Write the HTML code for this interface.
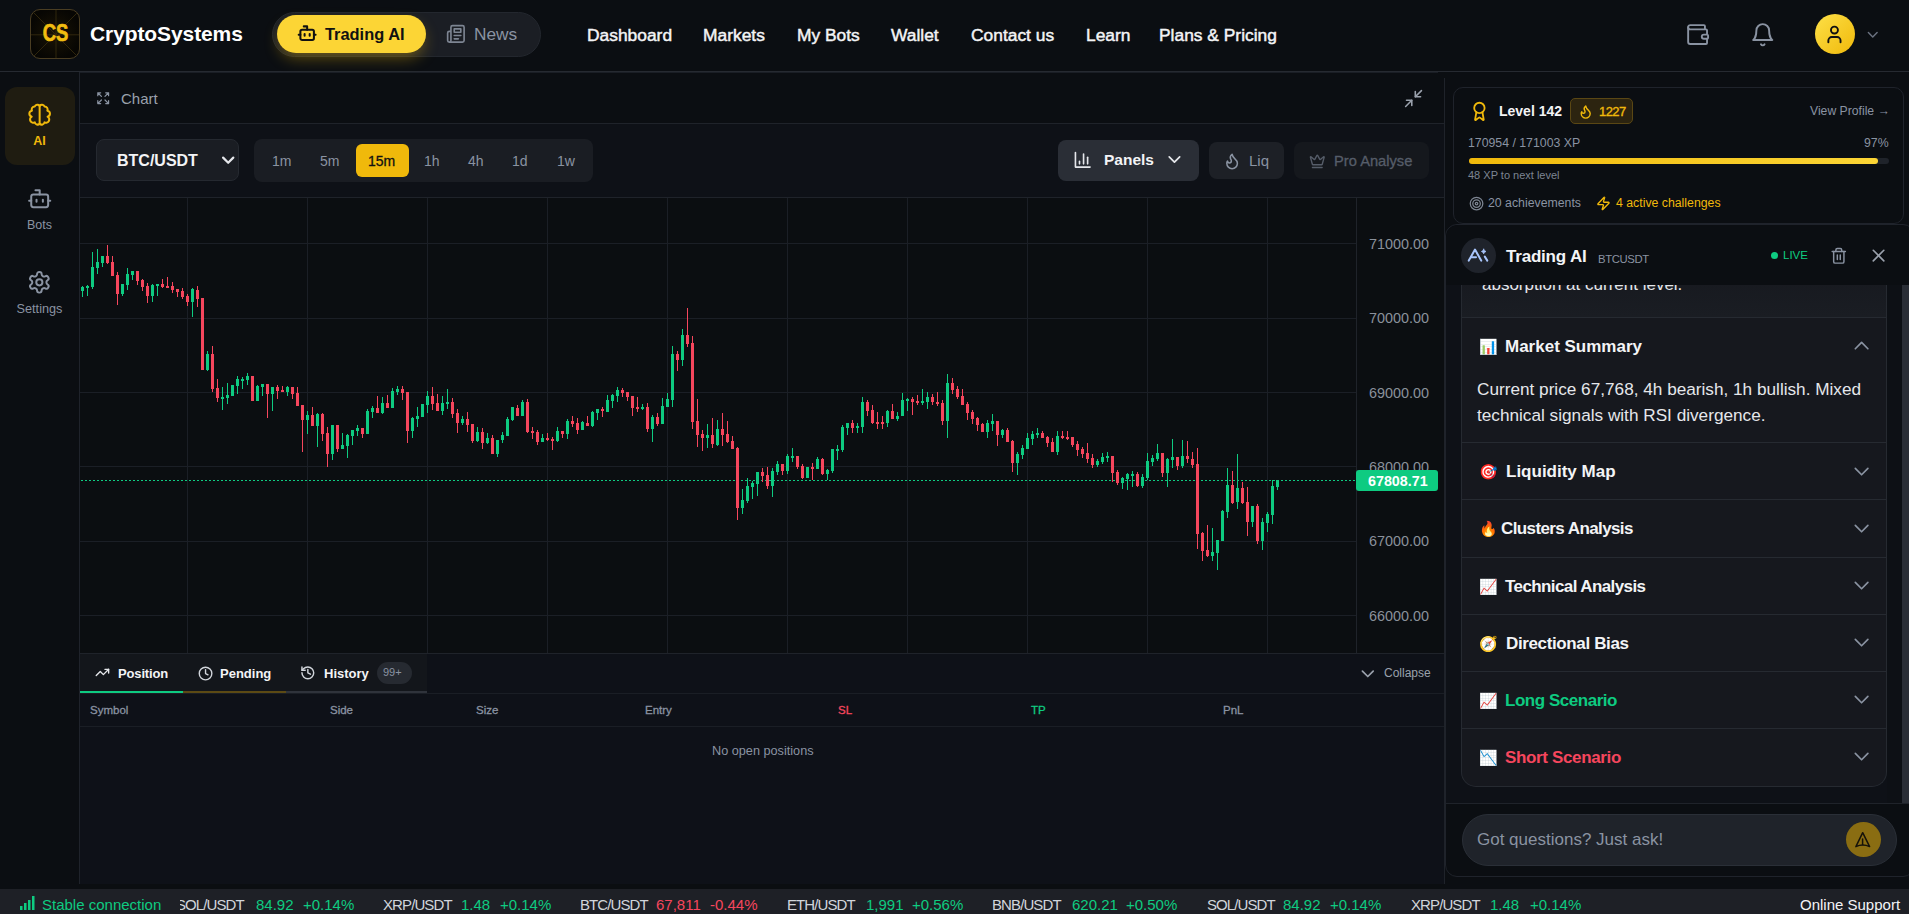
<!DOCTYPE html>
<html><head><meta charset="utf-8">
<style>
*{box-sizing:border-box;margin:0;padding:0}
html,body{width:1909px;height:914px;overflow:hidden;background:#0b0e11;font-family:"Liberation Sans",sans-serif;color:#e6e8ea}
.a{position:absolute}
.t{position:absolute;white-space:nowrap;line-height:1}
svg{position:absolute;overflow:visible}
</style></head><body>

<!-- HEADER -->
<div class="a" style="left:0;top:0;width:1909px;height:71px;background:#0b0e12"></div>
<div class="a" style="left:0;top:71px;width:1909px;height:1px;background:#262a31"></div>

<!-- logo -->
<div class="a" style="left:30px;top:9px;width:50px;height:50px;border-radius:10px;border:1px solid #4a3d22;background:radial-gradient(circle at 50% 50%,#1a1405 0%,#070603 75%);overflow:hidden">
  <svg width="50" height="50" style="left:-1px;top:-1px" stroke="#342a0f" stroke-width="0.9">
    <line x1="26" y1="0" x2="26" y2="50"/><line x1="0" y1="25.8" x2="50" y2="25.8"/>
    <line x1="3" y1="3" x2="48" y2="48"/><line x1="48" y1="3" x2="3" y2="48"/>
  </svg>
</div>
<div class="t" style="left:30px;top:22.4px;width:51px;text-align:center;font-size:23px;font-weight:700;transform:scaleX(0.8);color:#f2bd10;-webkit-text-stroke:0.7px #f2bd10">CS</div>
<div class="t" style="left:90px;top:23px;font-size:21px;font-weight:700;color:#fff;letter-spacing:-0.1px">CryptoSystems</div>

<!-- tabs -->
<div class="a" style="left:272px;top:12px;width:269px;height:45px;border-radius:23px;background:#1b1e24;border:1px solid #23272e"></div>
<div class="a" style="left:277px;top:15px;width:149px;height:38px;border-radius:19px;background:#fcd535;box-shadow:0 7px 16px -3px rgba(240,185,11,0.42)"></div>
<svg class="a" style="left:296.9px;top:23.4px" width="20.3" height="20.3" viewBox="0 0 24 24" fill="none" stroke="#111" stroke-width="2.4" stroke-linecap="round" stroke-linejoin="round"><path d="M12 8V4H8"/><rect width="16" height="12" x="4" y="8" rx="2"/><path d="M2 14h2"/><path d="M20 14h2"/><path d="M15 13v2"/><path d="M9 13v2"/></svg>
<div class="t" style="left:325px;top:26px;font-size:16.4px;font-weight:700;color:#111">Trading AI</div>
<svg class="a" style="left:445.9px;top:24px" width="19.75" height="19.75" viewBox="0 0 24 24" fill="none" stroke="#7d8592" stroke-width="2" stroke-linecap="round" stroke-linejoin="round"><path d="M4 22h16a2 2 0 0 0 2-2V4a2 2 0 0 0-2-2H8a2 2 0 0 0-2 2v16a2 2 0 0 1-2 2Zm0 0a2 2 0 0 1-2-2v-9c0-1.1.9-2 2-2h2"/><path d="M18 14h-8"/><path d="M15 18h-5"/><path d="M10 6h8v4h-8V6Z"/></svg>
<div class="t" style="left:474px;top:26px;font-size:17.3px;color:#8a93a2">News</div>

<!-- nav -->
<div class="t" style="left:587px;top:26.6px;font-size:17.4px;color:#f3f4f6;-webkit-text-stroke:0.45px #f3f4f6">Dashboard</div>
<div class="t" style="left:703px;top:26.6px;font-size:17.4px;color:#f3f4f6;-webkit-text-stroke:0.45px #f3f4f6">Markets</div>
<div class="t" style="left:797px;top:26.6px;font-size:17.4px;color:#f3f4f6;-webkit-text-stroke:0.45px #f3f4f6">My Bots</div>
<div class="t" style="left:891px;top:26.6px;font-size:17.4px;color:#f3f4f6;-webkit-text-stroke:0.45px #f3f4f6">Wallet</div>
<div class="t" style="left:971px;top:26.6px;font-size:17.4px;color:#f3f4f6;-webkit-text-stroke:0.45px #f3f4f6">Contact us</div>
<div class="t" style="left:1086px;top:26.6px;font-size:17.4px;color:#f3f4f6;-webkit-text-stroke:0.45px #f3f4f6">Learn</div>
<div class="t" style="left:1159px;top:26.6px;font-size:17.4px;color:#f3f4f6;-webkit-text-stroke:0.45px #f3f4f6">Plans &amp; Pricing</div>

<!-- right header icons -->
<svg class="a" style="left:1684.7px;top:21.8px" width="25.2" height="25.2" viewBox="0 0 24 24" fill="none" stroke="#8a93a2" stroke-width="1.8" stroke-linecap="round" stroke-linejoin="round"><path d="M19 7V4a1 1 0 0 0-1-1H5a2 2 0 0 0 0 4h15a1 1 0 0 1 1 1v4h-3a2 2 0 0 0 0 4h3a1 1 0 0 0 1-1v-2a1 1 0 0 0-1-1"/><path d="M3 5v14a2 2 0 0 0 2 2h15a1 1 0 0 0 1-1v-4"/></svg>
<svg class="a" style="left:1749.6px;top:21.5px" width="25.5" height="25.5" viewBox="0 0 24 24" fill="none" stroke="#8a93a2" stroke-width="1.8" stroke-linecap="round" stroke-linejoin="round"><path d="M6 8a6 6 0 0 1 12 0c0 7 3 9 3 9H3s3-2 3-9"/><path d="M10.3 21a1.94 1.94 0 0 0 3.4 0"/></svg>
<div class="a" style="left:1815px;top:14px;width:40px;height:40px;border-radius:50%;background:linear-gradient(135deg,#fde047,#f0b90b)"></div>
<svg class="a" style="left:1824.2px;top:23.5px" width="20.9" height="20.9" viewBox="0 0 24 24" fill="none" stroke="#111" stroke-width="2.2" stroke-linecap="round" stroke-linejoin="round"><path d="M19 21v-2a4 4 0 0 0-4-4H9a4 4 0 0 0-4 4v2"/><circle cx="12" cy="7" r="4"/></svg>
<svg class="a" style="left:1863.8px;top:25.7px" width="17.5" height="17.5" viewBox="0 0 24 24" fill="none" stroke="#6b7280" stroke-width="2" stroke-linecap="round" stroke-linejoin="round"><path d="m6 9 6 6 6-6"/></svg>

<!-- SIDEBAR -->
<div class="a" style="left:0;top:72px;width:79px;height:817px;background:#0b0e12"></div>
<div class="a" style="left:79px;top:72px;width:1px;height:812px;background:#1f232b"></div>
<div class="a" style="left:5px;top:87px;width:70px;height:78px;border-radius:12px;background:#1f1c11"></div>
<svg class="a" style="left:26.7px;top:101.7px" width="25.3" height="25.3" viewBox="0 0 24 24" fill="none" stroke="#f0b90b" stroke-width="1.9" stroke-linecap="round" stroke-linejoin="round"><path d="M12 3.6V20.6"/><path d="M12 3.6A2.7 2.7 0 0 0 7.4 4.2A2.8 2.8 0 0 0 4.7 8.2A2.9 2.9 0 0 0 4.5 13.9A2.9 2.9 0 0 0 7.4 19.3A2.7 2.7 0 0 0 12 20.6"/><path d="M12 3.6A2.7 2.7 0 0 1 16.6 4.2A2.8 2.8 0 0 1 19.3 8.2A2.9 2.9 0 0 1 19.5 13.9A2.9 2.9 0 0 1 16.6 19.3A2.7 2.7 0 0 1 12 20.6"/></svg>
<div class="t" style="left:0;width:79px;text-align:center;top:135px;font-size:12.5px;font-weight:700;color:#f0b90b">AI</div>
<svg class="a" style="left:26.6px;top:185.6px" width="25.4" height="25.4" viewBox="0 0 24 24" fill="none" stroke="#8a93a2" stroke-width="1.9" stroke-linecap="round" stroke-linejoin="round"><path d="M12 8V4H8"/><rect width="16" height="12" x="4" y="8" rx="2"/><path d="M2 14h2"/><path d="M20 14h2"/><path d="M15 13v2"/><path d="M9 13v2"/></svg>
<div class="t" style="left:0;width:79px;text-align:center;top:219px;font-size:12.5px;color:#8a93a2">Bots</div>
<svg class="a" style="left:27.3px;top:269.5px" width="24.7" height="24.7" viewBox="0 0 24 24" fill="none" stroke="#8a93a2" stroke-width="1.9" stroke-linecap="round" stroke-linejoin="round"><path d="M12.22 2h-.44a2 2 0 0 0-2 2v.18a2 2 0 0 1-1 1.73l-.43.25a2 2 0 0 1-2 0l-.15-.08a2 2 0 0 0-2.73.73l-.22.38a2 2 0 0 0 .73 2.73l.15.1a2 2 0 0 1 1 1.72v.51a2 2 0 0 1-1 1.74l-.15.09a2 2 0 0 0-.73 2.73l.22.38a2 2 0 0 0 2.73.73l.15-.08a2 2 0 0 1 2 0l.43.25a2 2 0 0 1 1 1.73V20a2 2 0 0 0 2 2h.44a2 2 0 0 0 2-2v-.18a2 2 0 0 1 1-1.73l.43-.25a2 2 0 0 1 2 0l.15.08a2 2 0 0 0 2.73-.73l.22-.39a2 2 0 0 0-.73-2.73l-.15-.08a2 2 0 0 1-1-1.74v-.5a2 2 0 0 1 1-1.74l.15-.09a2 2 0 0 0 .73-2.73l-.22-.38a2 2 0 0 0-2.73-.73l-.15.08a2 2 0 0 1-2 0l-.43-.25a2 2 0 0 1-1-1.73V4a2 2 0 0 0-2-2z"/><circle cx="12" cy="12" r="3"/></svg>
<div class="t" style="left:0;width:79px;text-align:center;top:303px;font-size:12.7px;color:#8a93a2">Settings</div>

<!-- CHART PANEL -->
<div class="a" style="left:80px;top:72px;width:1364px;height:51px;background:#0b0e12"></div>
<div class="a" style="left:80px;top:123px;width:1364px;height:1px;background:#1f232a"></div>
<div class="a" style="left:80px;top:72px;width:1358px;height:1px;background:#1a1e25"></div>
<div class="a" style="left:1444px;top:78px;width:1px;height:806px;background:#1f232a"></div>
<svg class="a" style="left:96.2px;top:91.2px" width="14.4" height="14.4" viewBox="0 0 24 24" fill="none" stroke="#8a93a2" stroke-width="2" stroke-linecap="round" stroke-linejoin="round"><path d="m21 21-6-6m6 6v-4.8m0 4.8h-4.8"/><path d="M3 16.2V21m0 0h4.8M3 21l6-6"/><path d="M21 7.8V3m0 0h-4.8M21 3l-6 6"/><path d="M3 7.8V3m0 0h4.8M3 3l6 6"/></svg>
<div class="t" style="left:121px;top:91px;font-size:15px;color:#9aa1ac">Chart</div>
<svg class="a" style="left:1403.3px;top:87.5px" width="21.1" height="21.1" viewBox="0 0 24 24" fill="none" stroke="#9aa1ac" stroke-width="1.8" stroke-linecap="round" stroke-linejoin="round"><path d="M4 14h6v6"/><path d="M20 10h-6V4"/><path d="m14 10 7-7"/><path d="m3 21 7-7"/></svg>

<!-- toolbar -->
<div class="a" style="left:80px;top:124px;width:1364px;height:73px;background:#0e1117"></div>
<div class="a" style="left:96px;top:139px;width:143px;height:42px;border-radius:8px;background:#1a1d23;border:1px solid #252930"></div>
<div class="t" style="left:117px;top:153px;font-size:16px;font-weight:700;color:#f3f4f6">BTC/USDT</div>
<svg class="a" style="left:218.2px;top:150.4px" width="20.4" height="20.4" viewBox="0 0 24 24" fill="none" stroke="#e5e7eb" stroke-width="2.6" stroke-linecap="round" stroke-linejoin="round"><path d="m6 9 6 6 6-6"/></svg>

<div class="a" style="left:254px;top:139px;width:339px;height:43px;border-radius:8px;background:#1a1d23"></div>
<div class="a" style="left:356px;top:144px;width:53px;height:33px;border-radius:6px;background:#f0b90b"></div>
<div class="t" style="left:272px;top:154px;font-size:14px;color:#8a93a2">1m</div>
<div class="t" style="left:320px;top:154px;font-size:14px;color:#8a93a2">5m</div>
<div class="t" style="left:368px;top:154px;font-size:14px;color:#111;-webkit-text-stroke:0.3px #111">15m</div>
<div class="t" style="left:424px;top:154px;font-size:14px;color:#8a93a2">1h</div>
<div class="t" style="left:468px;top:154px;font-size:14px;color:#8a93a2">4h</div>
<div class="t" style="left:512px;top:154px;font-size:14px;color:#8a93a2">1d</div>
<div class="t" style="left:557px;top:154px;font-size:14px;color:#8a93a2">1w</div>

<div class="a" style="left:1058px;top:140px;width:141px;height:41px;border-radius:8px;background:#2a2e36"></div>
<svg class="a" style="left:1072.8px;top:150.4px" width="19.5" height="19.5" viewBox="0 0 24 24" fill="none" stroke="#e5e7eb" stroke-width="2" stroke-linecap="round" stroke-linejoin="round"><path d="M3 3v18h18"/><path d="M18 17V9"/><path d="M13 17V5"/><path d="M8 17v-3"/></svg>
<div class="t" style="left:1104px;top:152px;font-size:15.5px;font-weight:700;color:#f3f4f6">Panels</div>
<svg class="a" style="left:1163.6px;top:149.3px" width="20.9" height="20.9" viewBox="0 0 24 24" fill="none" stroke="#e5e7eb" stroke-width="2" stroke-linecap="round" stroke-linejoin="round"><path d="m6 9 6 6 6-6"/></svg>

<div class="a" style="left:1209px;top:142px;width:75px;height:37px;border-radius:8px;background:#1d2026"></div>
<svg class="a" style="left:1223.4px;top:151.6px" width="18.2" height="18.2" viewBox="0 0 24 24" fill="none" stroke="#8a93a2" stroke-width="2" stroke-linecap="round" stroke-linejoin="round"><path d="M8.5 14.5A2.5 2.5 0 0 0 11 12c0-1.38-.5-2-1-3-1.072-2.143-.224-4.054 2-6 .5 2.5 2 4.9 4 6.5 2 1.6 3 3.5 3 5.5a7 7 0 1 1-14 0c0-1.153.433-2.294 1-3a2.5 2.5 0 0 0 2.5 2.5z"/></svg>
<div class="t" style="left:1249px;top:153px;font-size:15px;color:#8a93a2">Liq</div>

<div class="a" style="left:1294px;top:142px;width:135px;height:37px;border-radius:8px;background:#15181d"></div>
<svg class="a" style="left:1309.3px;top:152.8px" width="16.6" height="16.6" viewBox="0 0 24 24" fill="none" stroke="#565d69" stroke-width="2" stroke-linecap="round" stroke-linejoin="round"><path d="M11.562 3.266a.5.5 0 0 1 .876 0L15.39 8.87a1 1 0 0 0 1.516.294L21.183 5.5a.5.5 0 0 1 .798.519l-2.834 10.246a1 1 0 0 1-.956.734H5.81a1 1 0 0 1-.957-.734L2.02 6.02a.5.5 0 0 1 .798-.519l4.276 3.664a1 1 0 0 0 1.516-.294z"/><path d="M5 21h14"/></svg>
<div class="t" style="left:1334px;top:154px;font-size:14.7px;color:#565d69;-webkit-text-stroke:0.3px #565d69">Pro Analyse</div>

<!-- plot -->
<div class="a" style="left:80px;top:197px;width:1364px;height:1px;background:#1f232a"></div>
<div class="a" style="left:80px;top:198px;width:1364px;height:455px;background:#0b0e11"></div>
<svg class="a" style="left:0;top:0" width="1909" height="914" shape-rendering="crispEdges">
  <g fill="#1b1f26">
    <rect x="187" y="198" width="1" height="455"/><rect x="307" y="198" width="1" height="455"/><rect x="427" y="198" width="1" height="455"/>
    <rect x="547" y="198" width="1" height="455"/><rect x="667" y="198" width="1" height="455"/><rect x="787" y="198" width="1" height="455"/>
    <rect x="907" y="198" width="1" height="455"/><rect x="1027" y="198" width="1" height="455"/><rect x="1147" y="198" width="1" height="455"/>
    <rect x="1267" y="198" width="1" height="455"/>
    <rect x="80" y="243" width="1276" height="1"/><rect x="80" y="318" width="1276" height="1"/><rect x="80" y="392" width="1276" height="1"/>
    <rect x="80" y="466" width="1276" height="1"/><rect x="80" y="541" width="1276" height="1"/><rect x="80" y="615" width="1276" height="1"/>
  </g>
  <rect x="1356" y="198" width="1" height="455" fill="#1f232a"/>
  <line x1="81" y1="480.5" x2="1356" y2="480.5" stroke="#0ecb81" stroke-width="1" stroke-dasharray="2 2"/>
  <rect x="82" y="286" width="1" height="11" fill="#0ecb81"/>
<rect x="81" y="287" width="3" height="4" fill="#0ecb81"/>
<rect x="87" y="285" width="1" height="11" fill="#0ecb81"/>
<rect x="86" y="286" width="3" height="2" fill="#0ecb81"/>
<rect x="92" y="252" width="1" height="37" fill="#0ecb81"/>
<rect x="91" y="267" width="3" height="20" fill="#0ecb81"/>
<rect x="97" y="249" width="1" height="25" fill="#0ecb81"/>
<rect x="96" y="262" width="3" height="6" fill="#0ecb81"/>
<rect x="102" y="256" width="1" height="11" fill="#0ecb81"/>
<rect x="101" y="256" width="3" height="7" fill="#0ecb81"/>
<rect x="107" y="245" width="1" height="19" fill="#f6465d"/>
<rect x="106" y="256" width="3" height="7" fill="#f6465d"/>
<rect x="112" y="256" width="1" height="20" fill="#f6465d"/>
<rect x="111" y="262" width="3" height="14" fill="#f6465d"/>
<rect x="117" y="272" width="1" height="33" fill="#f6465d"/>
<rect x="116" y="275" width="3" height="19" fill="#f6465d"/>
<rect x="122" y="284" width="1" height="12" fill="#0ecb81"/>
<rect x="121" y="284" width="3" height="10" fill="#0ecb81"/>
<rect x="127" y="268" width="1" height="22" fill="#0ecb81"/>
<rect x="126" y="274" width="3" height="11" fill="#0ecb81"/>
<rect x="132" y="271" width="1" height="9" fill="#0ecb81"/>
<rect x="131" y="271" width="3" height="4" fill="#0ecb81"/>
<rect x="137" y="271" width="1" height="14" fill="#f6465d"/>
<rect x="136" y="271" width="3" height="10" fill="#f6465d"/>
<rect x="142" y="279" width="1" height="12" fill="#f6465d"/>
<rect x="141" y="280" width="3" height="7" fill="#f6465d"/>
<rect x="147" y="283" width="1" height="20" fill="#f6465d"/>
<rect x="146" y="286" width="3" height="10" fill="#f6465d"/>
<rect x="152" y="284" width="1" height="18" fill="#0ecb81"/>
<rect x="151" y="285" width="3" height="11" fill="#0ecb81"/>
<rect x="157" y="284" width="1" height="12" fill="#0ecb81"/>
<rect x="156" y="284" width="3" height="2" fill="#0ecb81"/>
<rect x="162" y="279" width="1" height="9" fill="#f6465d"/>
<rect x="161" y="284" width="3" height="3" fill="#f6465d"/>
<rect x="167" y="277" width="1" height="11" fill="#f6465d"/>
<rect x="166" y="286" width="3" height="2" fill="#f6465d"/>
<rect x="172" y="282" width="1" height="11" fill="#f6465d"/>
<rect x="171" y="286" width="3" height="4" fill="#f6465d"/>
<rect x="177" y="289" width="1" height="8" fill="#f6465d"/>
<rect x="176" y="289" width="3" height="3" fill="#f6465d"/>
<rect x="182" y="288" width="1" height="11" fill="#f6465d"/>
<rect x="181" y="291" width="3" height="6" fill="#f6465d"/>
<rect x="187" y="294" width="1" height="12" fill="#f6465d"/>
<rect x="186" y="296" width="3" height="6" fill="#f6465d"/>
<rect x="192" y="288" width="1" height="29" fill="#0ecb81"/>
<rect x="191" y="289" width="3" height="13" fill="#0ecb81"/>
<rect x="197" y="286" width="1" height="21" fill="#f6465d"/>
<rect x="196" y="290" width="3" height="9" fill="#f6465d"/>
<rect x="202" y="298" width="1" height="72" fill="#f6465d"/>
<rect x="201" y="298" width="3" height="72" fill="#f6465d"/>
<rect x="207" y="351" width="1" height="20" fill="#0ecb81"/>
<rect x="206" y="354" width="3" height="16" fill="#0ecb81"/>
<rect x="212" y="346" width="1" height="46" fill="#f6465d"/>
<rect x="211" y="354" width="3" height="35" fill="#f6465d"/>
<rect x="217" y="379" width="1" height="23" fill="#f6465d"/>
<rect x="216" y="388" width="3" height="10" fill="#f6465d"/>
<rect x="222" y="387" width="1" height="23" fill="#0ecb81"/>
<rect x="221" y="397" width="3" height="2" fill="#0ecb81"/>
<rect x="227" y="383" width="1" height="21" fill="#0ecb81"/>
<rect x="226" y="395" width="3" height="3" fill="#0ecb81"/>
<rect x="232" y="385" width="1" height="11" fill="#0ecb81"/>
<rect x="231" y="385" width="3" height="11" fill="#0ecb81"/>
<rect x="237" y="376" width="1" height="18" fill="#0ecb81"/>
<rect x="236" y="379" width="3" height="7" fill="#0ecb81"/>
<rect x="242" y="377" width="1" height="12" fill="#0ecb81"/>
<rect x="241" y="379" width="3" height="2" fill="#0ecb81"/>
<rect x="247" y="373" width="1" height="12" fill="#0ecb81"/>
<rect x="246" y="376" width="3" height="4" fill="#0ecb81"/>
<rect x="252" y="376" width="1" height="25" fill="#f6465d"/>
<rect x="251" y="376" width="3" height="25" fill="#f6465d"/>
<rect x="257" y="385" width="1" height="16" fill="#0ecb81"/>
<rect x="256" y="386" width="3" height="15" fill="#0ecb81"/>
<rect x="262" y="384" width="1" height="12" fill="#0ecb81"/>
<rect x="261" y="384" width="3" height="3" fill="#0ecb81"/>
<rect x="267" y="384" width="1" height="34" fill="#f6465d"/>
<rect x="266" y="384" width="3" height="10" fill="#f6465d"/>
<rect x="272" y="387" width="1" height="24" fill="#0ecb81"/>
<rect x="271" y="387" width="3" height="7" fill="#0ecb81"/>
<rect x="277" y="385" width="1" height="14" fill="#f6465d"/>
<rect x="276" y="387" width="3" height="4" fill="#f6465d"/>
<rect x="282" y="386" width="1" height="6" fill="#f6465d"/>
<rect x="281" y="390" width="3" height="2" fill="#f6465d"/>
<rect x="287" y="386" width="1" height="10" fill="#0ecb81"/>
<rect x="286" y="387" width="3" height="5" fill="#0ecb81"/>
<rect x="292" y="387" width="1" height="12" fill="#f6465d"/>
<rect x="291" y="387" width="3" height="7" fill="#f6465d"/>
<rect x="297" y="387" width="1" height="19" fill="#f6465d"/>
<rect x="296" y="393" width="3" height="13" fill="#f6465d"/>
<rect x="302" y="405" width="1" height="47" fill="#f6465d"/>
<rect x="301" y="405" width="3" height="15" fill="#f6465d"/>
<rect x="307" y="411" width="1" height="23" fill="#0ecb81"/>
<rect x="306" y="415" width="3" height="5" fill="#0ecb81"/>
<rect x="312" y="407" width="1" height="19" fill="#f6465d"/>
<rect x="311" y="415" width="3" height="11" fill="#f6465d"/>
<rect x="317" y="413" width="1" height="34" fill="#0ecb81"/>
<rect x="316" y="414" width="3" height="12" fill="#0ecb81"/>
<rect x="322" y="413" width="1" height="28" fill="#f6465d"/>
<rect x="321" y="414" width="3" height="20" fill="#f6465d"/>
<rect x="327" y="427" width="1" height="40" fill="#f6465d"/>
<rect x="326" y="433" width="3" height="21" fill="#f6465d"/>
<rect x="332" y="425" width="1" height="35" fill="#0ecb81"/>
<rect x="331" y="425" width="3" height="29" fill="#0ecb81"/>
<rect x="337" y="425" width="1" height="27" fill="#f6465d"/>
<rect x="336" y="425" width="3" height="24" fill="#f6465d"/>
<rect x="342" y="433" width="1" height="16" fill="#0ecb81"/>
<rect x="341" y="445" width="3" height="4" fill="#0ecb81"/>
<rect x="347" y="434" width="1" height="24" fill="#0ecb81"/>
<rect x="346" y="435" width="3" height="11" fill="#0ecb81"/>
<rect x="352" y="430" width="1" height="15" fill="#0ecb81"/>
<rect x="351" y="430" width="3" height="6" fill="#0ecb81"/>
<rect x="357" y="425" width="1" height="11" fill="#0ecb81"/>
<rect x="356" y="428" width="3" height="3" fill="#0ecb81"/>
<rect x="362" y="428" width="1" height="10" fill="#f6465d"/>
<rect x="361" y="428" width="3" height="6" fill="#f6465d"/>
<rect x="367" y="409" width="1" height="25" fill="#0ecb81"/>
<rect x="366" y="411" width="3" height="23" fill="#0ecb81"/>
<rect x="372" y="406" width="1" height="12" fill="#0ecb81"/>
<rect x="371" y="408" width="3" height="4" fill="#0ecb81"/>
<rect x="377" y="396" width="1" height="17" fill="#f6465d"/>
<rect x="376" y="408" width="3" height="5" fill="#f6465d"/>
<rect x="382" y="397" width="1" height="17" fill="#0ecb81"/>
<rect x="381" y="403" width="3" height="10" fill="#0ecb81"/>
<rect x="387" y="395" width="1" height="13" fill="#f6465d"/>
<rect x="386" y="403" width="3" height="5" fill="#f6465d"/>
<rect x="392" y="388" width="1" height="20" fill="#0ecb81"/>
<rect x="391" y="391" width="3" height="17" fill="#0ecb81"/>
<rect x="397" y="386" width="1" height="9" fill="#0ecb81"/>
<rect x="396" y="389" width="3" height="3" fill="#0ecb81"/>
<rect x="402" y="386" width="1" height="14" fill="#f6465d"/>
<rect x="401" y="389" width="3" height="4" fill="#f6465d"/>
<rect x="407" y="392" width="1" height="51" fill="#f6465d"/>
<rect x="406" y="392" width="3" height="39" fill="#f6465d"/>
<rect x="412" y="417" width="1" height="21" fill="#0ecb81"/>
<rect x="411" y="418" width="3" height="13" fill="#0ecb81"/>
<rect x="417" y="407" width="1" height="20" fill="#0ecb81"/>
<rect x="416" y="416" width="3" height="3" fill="#0ecb81"/>
<rect x="422" y="404" width="1" height="13" fill="#0ecb81"/>
<rect x="421" y="404" width="3" height="13" fill="#0ecb81"/>
<rect x="427" y="391" width="1" height="22" fill="#0ecb81"/>
<rect x="426" y="396" width="3" height="9" fill="#0ecb81"/>
<rect x="432" y="387" width="1" height="23" fill="#f6465d"/>
<rect x="431" y="396" width="3" height="8" fill="#f6465d"/>
<rect x="437" y="394" width="1" height="17" fill="#f6465d"/>
<rect x="436" y="403" width="3" height="8" fill="#f6465d"/>
<rect x="442" y="396" width="1" height="19" fill="#0ecb81"/>
<rect x="441" y="403" width="3" height="8" fill="#0ecb81"/>
<rect x="447" y="389" width="1" height="20" fill="#0ecb81"/>
<rect x="446" y="402" width="3" height="2" fill="#0ecb81"/>
<rect x="452" y="398" width="1" height="20" fill="#f6465d"/>
<rect x="451" y="402" width="3" height="12" fill="#f6465d"/>
<rect x="457" y="409" width="1" height="24" fill="#f6465d"/>
<rect x="456" y="413" width="3" height="10" fill="#f6465d"/>
<rect x="462" y="416" width="1" height="9" fill="#0ecb81"/>
<rect x="461" y="419" width="3" height="4" fill="#0ecb81"/>
<rect x="467" y="412" width="1" height="20" fill="#f6465d"/>
<rect x="466" y="419" width="3" height="6" fill="#f6465d"/>
<rect x="472" y="424" width="1" height="19" fill="#f6465d"/>
<rect x="471" y="424" width="3" height="17" fill="#f6465d"/>
<rect x="477" y="427" width="1" height="15" fill="#0ecb81"/>
<rect x="476" y="432" width="3" height="9" fill="#0ecb81"/>
<rect x="482" y="428" width="1" height="21" fill="#f6465d"/>
<rect x="481" y="432" width="3" height="11" fill="#f6465d"/>
<rect x="487" y="433" width="1" height="11" fill="#0ecb81"/>
<rect x="486" y="438" width="3" height="5" fill="#0ecb81"/>
<rect x="492" y="435" width="1" height="19" fill="#f6465d"/>
<rect x="491" y="438" width="3" height="16" fill="#f6465d"/>
<rect x="497" y="440" width="1" height="17" fill="#0ecb81"/>
<rect x="496" y="440" width="3" height="14" fill="#0ecb81"/>
<rect x="502" y="432" width="1" height="11" fill="#0ecb81"/>
<rect x="501" y="435" width="3" height="5" fill="#0ecb81"/>
<rect x="507" y="417" width="1" height="19" fill="#0ecb81"/>
<rect x="506" y="419" width="3" height="17" fill="#0ecb81"/>
<rect x="512" y="407" width="1" height="14" fill="#0ecb81"/>
<rect x="511" y="407" width="3" height="13" fill="#0ecb81"/>
<rect x="517" y="405" width="1" height="11" fill="#f6465d"/>
<rect x="516" y="408" width="3" height="8" fill="#f6465d"/>
<rect x="522" y="400" width="1" height="16" fill="#0ecb81"/>
<rect x="521" y="402" width="3" height="14" fill="#0ecb81"/>
<rect x="527" y="399" width="1" height="34" fill="#f6465d"/>
<rect x="526" y="402" width="3" height="30" fill="#f6465d"/>
<rect x="532" y="427" width="1" height="12" fill="#f6465d"/>
<rect x="531" y="431" width="3" height="2" fill="#f6465d"/>
<rect x="537" y="430" width="1" height="15" fill="#f6465d"/>
<rect x="536" y="432" width="3" height="10" fill="#f6465d"/>
<rect x="542" y="434" width="1" height="8" fill="#0ecb81"/>
<rect x="541" y="438" width="3" height="4" fill="#0ecb81"/>
<rect x="547" y="433" width="1" height="8" fill="#f6465d"/>
<rect x="546" y="438" width="3" height="2" fill="#f6465d"/>
<rect x="552" y="437" width="1" height="13" fill="#f6465d"/>
<rect x="551" y="439" width="3" height="2" fill="#f6465d"/>
<rect x="557" y="427" width="1" height="15" fill="#0ecb81"/>
<rect x="556" y="431" width="3" height="10" fill="#0ecb81"/>
<rect x="562" y="431" width="1" height="7" fill="#f6465d"/>
<rect x="561" y="431" width="3" height="3" fill="#f6465d"/>
<rect x="567" y="419" width="1" height="20" fill="#0ecb81"/>
<rect x="566" y="421" width="3" height="13" fill="#0ecb81"/>
<rect x="572" y="416" width="1" height="11" fill="#f6465d"/>
<rect x="571" y="421" width="3" height="3" fill="#f6465d"/>
<rect x="577" y="418" width="1" height="16" fill="#f6465d"/>
<rect x="576" y="423" width="3" height="7" fill="#f6465d"/>
<rect x="582" y="421" width="1" height="9" fill="#0ecb81"/>
<rect x="581" y="422" width="3" height="8" fill="#0ecb81"/>
<rect x="587" y="416" width="1" height="10" fill="#f6465d"/>
<rect x="586" y="423" width="3" height="3" fill="#f6465d"/>
<rect x="592" y="411" width="1" height="16" fill="#0ecb81"/>
<rect x="591" y="412" width="3" height="14" fill="#0ecb81"/>
<rect x="597" y="409" width="1" height="11" fill="#0ecb81"/>
<rect x="596" y="409" width="3" height="4" fill="#0ecb81"/>
<rect x="602" y="407" width="1" height="10" fill="#f6465d"/>
<rect x="601" y="409" width="3" height="2" fill="#f6465d"/>
<rect x="607" y="395" width="1" height="17" fill="#0ecb81"/>
<rect x="606" y="400" width="3" height="12" fill="#0ecb81"/>
<rect x="612" y="394" width="1" height="14" fill="#0ecb81"/>
<rect x="611" y="395" width="3" height="6" fill="#0ecb81"/>
<rect x="617" y="387" width="1" height="15" fill="#0ecb81"/>
<rect x="616" y="390" width="3" height="6" fill="#0ecb81"/>
<rect x="622" y="388" width="1" height="9" fill="#f6465d"/>
<rect x="621" y="390" width="3" height="3" fill="#f6465d"/>
<rect x="627" y="392" width="1" height="9" fill="#f6465d"/>
<rect x="626" y="392" width="3" height="5" fill="#f6465d"/>
<rect x="632" y="396" width="1" height="20" fill="#f6465d"/>
<rect x="631" y="396" width="3" height="12" fill="#f6465d"/>
<rect x="637" y="397" width="1" height="15" fill="#f6465d"/>
<rect x="636" y="407" width="3" height="2" fill="#f6465d"/>
<rect x="642" y="404" width="1" height="6" fill="#0ecb81"/>
<rect x="641" y="407" width="3" height="2" fill="#0ecb81"/>
<rect x="647" y="403" width="1" height="29" fill="#f6465d"/>
<rect x="646" y="407" width="3" height="22" fill="#f6465d"/>
<rect x="652" y="415" width="1" height="27" fill="#0ecb81"/>
<rect x="651" y="417" width="3" height="12" fill="#0ecb81"/>
<rect x="657" y="413" width="1" height="13" fill="#f6465d"/>
<rect x="656" y="417" width="3" height="7" fill="#f6465d"/>
<rect x="662" y="398" width="1" height="26" fill="#0ecb81"/>
<rect x="661" y="406" width="3" height="18" fill="#0ecb81"/>
<rect x="667" y="393" width="1" height="14" fill="#0ecb81"/>
<rect x="666" y="399" width="3" height="8" fill="#0ecb81"/>
<rect x="672" y="346" width="1" height="61" fill="#0ecb81"/>
<rect x="671" y="354" width="3" height="46" fill="#0ecb81"/>
<rect x="677" y="351" width="1" height="20" fill="#f6465d"/>
<rect x="676" y="354" width="3" height="6" fill="#f6465d"/>
<rect x="682" y="329" width="1" height="37" fill="#0ecb81"/>
<rect x="681" y="335" width="3" height="25" fill="#0ecb81"/>
<rect x="687" y="308" width="1" height="39" fill="#f6465d"/>
<rect x="686" y="335" width="3" height="9" fill="#f6465d"/>
<rect x="692" y="336" width="1" height="93" fill="#f6465d"/>
<rect x="691" y="343" width="3" height="79" fill="#f6465d"/>
<rect x="697" y="399" width="1" height="48" fill="#f6465d"/>
<rect x="696" y="421" width="3" height="14" fill="#f6465d"/>
<rect x="702" y="430" width="1" height="21" fill="#f6465d"/>
<rect x="701" y="434" width="3" height="4" fill="#f6465d"/>
<rect x="707" y="424" width="1" height="24" fill="#0ecb81"/>
<rect x="706" y="435" width="3" height="3" fill="#0ecb81"/>
<rect x="712" y="418" width="1" height="30" fill="#f6465d"/>
<rect x="711" y="435" width="3" height="9" fill="#f6465d"/>
<rect x="717" y="420" width="1" height="26" fill="#0ecb81"/>
<rect x="716" y="429" width="3" height="16" fill="#0ecb81"/>
<rect x="722" y="413" width="1" height="33" fill="#f6465d"/>
<rect x="721" y="429" width="3" height="6" fill="#f6465d"/>
<rect x="727" y="421" width="1" height="22" fill="#f6465d"/>
<rect x="726" y="434" width="3" height="8" fill="#f6465d"/>
<rect x="732" y="436" width="1" height="13" fill="#f6465d"/>
<rect x="731" y="441" width="3" height="8" fill="#f6465d"/>
<rect x="737" y="447" width="1" height="73" fill="#f6465d"/>
<rect x="736" y="448" width="3" height="60" fill="#f6465d"/>
<rect x="742" y="489" width="1" height="25" fill="#0ecb81"/>
<rect x="741" y="500" width="3" height="8" fill="#0ecb81"/>
<rect x="747" y="478" width="1" height="25" fill="#0ecb81"/>
<rect x="746" y="486" width="3" height="15" fill="#0ecb81"/>
<rect x="752" y="481" width="1" height="18" fill="#0ecb81"/>
<rect x="751" y="483" width="3" height="4" fill="#0ecb81"/>
<rect x="757" y="472" width="1" height="24" fill="#0ecb81"/>
<rect x="756" y="472" width="3" height="12" fill="#0ecb81"/>
<rect x="762" y="468" width="1" height="14" fill="#f6465d"/>
<rect x="761" y="472" width="3" height="4" fill="#f6465d"/>
<rect x="767" y="467" width="1" height="22" fill="#f6465d"/>
<rect x="766" y="475" width="3" height="11" fill="#f6465d"/>
<rect x="772" y="468" width="1" height="29" fill="#0ecb81"/>
<rect x="771" y="471" width="3" height="15" fill="#0ecb81"/>
<rect x="777" y="461" width="1" height="14" fill="#0ecb81"/>
<rect x="776" y="464" width="3" height="8" fill="#0ecb81"/>
<rect x="782" y="464" width="1" height="11" fill="#f6465d"/>
<rect x="781" y="464" width="3" height="7" fill="#f6465d"/>
<rect x="787" y="454" width="1" height="20" fill="#0ecb81"/>
<rect x="786" y="456" width="3" height="15" fill="#0ecb81"/>
<rect x="792" y="448" width="1" height="14" fill="#0ecb81"/>
<rect x="791" y="456" width="3" height="2" fill="#0ecb81"/>
<rect x="797" y="456" width="1" height="13" fill="#f6465d"/>
<rect x="796" y="456" width="3" height="11" fill="#f6465d"/>
<rect x="802" y="464" width="1" height="15" fill="#f6465d"/>
<rect x="801" y="466" width="3" height="12" fill="#f6465d"/>
<rect x="807" y="467" width="1" height="11" fill="#0ecb81"/>
<rect x="806" y="467" width="3" height="11" fill="#0ecb81"/>
<rect x="812" y="463" width="1" height="17" fill="#f6465d"/>
<rect x="811" y="467" width="3" height="2" fill="#f6465d"/>
<rect x="817" y="457" width="1" height="12" fill="#0ecb81"/>
<rect x="816" y="459" width="3" height="10" fill="#0ecb81"/>
<rect x="822" y="458" width="1" height="17" fill="#f6465d"/>
<rect x="821" y="459" width="3" height="15" fill="#f6465d"/>
<rect x="827" y="469" width="1" height="11" fill="#0ecb81"/>
<rect x="826" y="470" width="3" height="4" fill="#0ecb81"/>
<rect x="832" y="449" width="1" height="24" fill="#0ecb81"/>
<rect x="831" y="449" width="3" height="22" fill="#0ecb81"/>
<rect x="837" y="445" width="1" height="15" fill="#0ecb81"/>
<rect x="836" y="449" width="3" height="2" fill="#0ecb81"/>
<rect x="842" y="425" width="1" height="27" fill="#0ecb81"/>
<rect x="841" y="427" width="3" height="23" fill="#0ecb81"/>
<rect x="847" y="423" width="1" height="12" fill="#0ecb81"/>
<rect x="846" y="423" width="3" height="5" fill="#0ecb81"/>
<rect x="852" y="420" width="1" height="13" fill="#f6465d"/>
<rect x="851" y="423" width="3" height="5" fill="#f6465d"/>
<rect x="857" y="423" width="1" height="10" fill="#0ecb81"/>
<rect x="856" y="426" width="3" height="2" fill="#0ecb81"/>
<rect x="862" y="397" width="1" height="36" fill="#0ecb81"/>
<rect x="861" y="402" width="3" height="25" fill="#0ecb81"/>
<rect x="867" y="400" width="1" height="16" fill="#f6465d"/>
<rect x="866" y="402" width="3" height="9" fill="#f6465d"/>
<rect x="872" y="405" width="1" height="19" fill="#f6465d"/>
<rect x="871" y="410" width="3" height="13" fill="#f6465d"/>
<rect x="877" y="412" width="1" height="17" fill="#f6465d"/>
<rect x="876" y="422" width="3" height="2" fill="#f6465d"/>
<rect x="882" y="416" width="1" height="13" fill="#f6465d"/>
<rect x="881" y="422" width="3" height="2" fill="#f6465d"/>
<rect x="887" y="410" width="1" height="17" fill="#0ecb81"/>
<rect x="886" y="411" width="3" height="12" fill="#0ecb81"/>
<rect x="892" y="404" width="1" height="15" fill="#f6465d"/>
<rect x="891" y="411" width="3" height="8" fill="#f6465d"/>
<rect x="897" y="412" width="1" height="9" fill="#0ecb81"/>
<rect x="896" y="416" width="3" height="3" fill="#0ecb81"/>
<rect x="902" y="393" width="1" height="23" fill="#0ecb81"/>
<rect x="901" y="400" width="3" height="16" fill="#0ecb81"/>
<rect x="907" y="398" width="1" height="13" fill="#0ecb81"/>
<rect x="906" y="399" width="3" height="2" fill="#0ecb81"/>
<rect x="912" y="397" width="1" height="18" fill="#f6465d"/>
<rect x="911" y="399" width="3" height="3" fill="#f6465d"/>
<rect x="917" y="395" width="1" height="10" fill="#f6465d"/>
<rect x="916" y="401" width="3" height="2" fill="#f6465d"/>
<rect x="922" y="389" width="1" height="16" fill="#0ecb81"/>
<rect x="921" y="401" width="3" height="2" fill="#0ecb81"/>
<rect x="927" y="392" width="1" height="17" fill="#0ecb81"/>
<rect x="926" y="397" width="3" height="5" fill="#0ecb81"/>
<rect x="932" y="394" width="1" height="11" fill="#f6465d"/>
<rect x="931" y="397" width="3" height="5" fill="#f6465d"/>
<rect x="937" y="392" width="1" height="14" fill="#f6465d"/>
<rect x="936" y="402" width="3" height="2" fill="#f6465d"/>
<rect x="942" y="400" width="1" height="25" fill="#f6465d"/>
<rect x="941" y="403" width="3" height="18" fill="#f6465d"/>
<rect x="947" y="374" width="1" height="64" fill="#0ecb81"/>
<rect x="946" y="383" width="3" height="38" fill="#0ecb81"/>
<rect x="952" y="378" width="1" height="16" fill="#f6465d"/>
<rect x="951" y="383" width="3" height="7" fill="#f6465d"/>
<rect x="957" y="386" width="1" height="13" fill="#f6465d"/>
<rect x="956" y="389" width="3" height="8" fill="#f6465d"/>
<rect x="962" y="389" width="1" height="16" fill="#f6465d"/>
<rect x="961" y="396" width="3" height="9" fill="#f6465d"/>
<rect x="967" y="402" width="1" height="18" fill="#f6465d"/>
<rect x="966" y="404" width="3" height="9" fill="#f6465d"/>
<rect x="972" y="410" width="1" height="14" fill="#f6465d"/>
<rect x="971" y="412" width="3" height="7" fill="#f6465d"/>
<rect x="977" y="417" width="1" height="14" fill="#f6465d"/>
<rect x="976" y="418" width="3" height="7" fill="#f6465d"/>
<rect x="982" y="423" width="1" height="9" fill="#f6465d"/>
<rect x="981" y="424" width="3" height="8" fill="#f6465d"/>
<rect x="987" y="420" width="1" height="18" fill="#0ecb81"/>
<rect x="986" y="423" width="3" height="9" fill="#0ecb81"/>
<rect x="992" y="414" width="1" height="17" fill="#0ecb81"/>
<rect x="991" y="421" width="3" height="3" fill="#0ecb81"/>
<rect x="997" y="421" width="1" height="25" fill="#f6465d"/>
<rect x="996" y="421" width="3" height="14" fill="#f6465d"/>
<rect x="1002" y="429" width="1" height="9" fill="#0ecb81"/>
<rect x="1001" y="430" width="3" height="5" fill="#0ecb81"/>
<rect x="1007" y="428" width="1" height="14" fill="#f6465d"/>
<rect x="1006" y="430" width="3" height="12" fill="#f6465d"/>
<rect x="1012" y="440" width="1" height="32" fill="#f6465d"/>
<rect x="1011" y="441" width="3" height="22" fill="#f6465d"/>
<rect x="1017" y="452" width="1" height="23" fill="#0ecb81"/>
<rect x="1016" y="454" width="3" height="9" fill="#0ecb81"/>
<rect x="1022" y="445" width="1" height="14" fill="#0ecb81"/>
<rect x="1021" y="448" width="3" height="7" fill="#0ecb81"/>
<rect x="1027" y="433" width="1" height="16" fill="#0ecb81"/>
<rect x="1026" y="438" width="3" height="11" fill="#0ecb81"/>
<rect x="1032" y="431" width="1" height="14" fill="#0ecb81"/>
<rect x="1031" y="434" width="3" height="5" fill="#0ecb81"/>
<rect x="1037" y="428" width="1" height="10" fill="#0ecb81"/>
<rect x="1036" y="433" width="3" height="2" fill="#0ecb81"/>
<rect x="1042" y="431" width="1" height="7" fill="#f6465d"/>
<rect x="1041" y="433" width="3" height="5" fill="#f6465d"/>
<rect x="1047" y="436" width="1" height="11" fill="#f6465d"/>
<rect x="1046" y="437" width="3" height="6" fill="#f6465d"/>
<rect x="1052" y="438" width="1" height="14" fill="#f6465d"/>
<rect x="1051" y="442" width="3" height="10" fill="#f6465d"/>
<rect x="1057" y="431" width="1" height="24" fill="#0ecb81"/>
<rect x="1056" y="436" width="3" height="16" fill="#0ecb81"/>
<rect x="1062" y="431" width="1" height="8" fill="#f6465d"/>
<rect x="1061" y="436" width="3" height="2" fill="#f6465d"/>
<rect x="1067" y="431" width="1" height="9" fill="#f6465d"/>
<rect x="1066" y="437" width="3" height="2" fill="#f6465d"/>
<rect x="1072" y="437" width="1" height="10" fill="#f6465d"/>
<rect x="1071" y="437" width="3" height="8" fill="#f6465d"/>
<rect x="1077" y="441" width="1" height="15" fill="#f6465d"/>
<rect x="1076" y="444" width="3" height="6" fill="#f6465d"/>
<rect x="1082" y="447" width="1" height="11" fill="#f6465d"/>
<rect x="1081" y="449" width="3" height="5" fill="#f6465d"/>
<rect x="1087" y="443" width="1" height="20" fill="#f6465d"/>
<rect x="1086" y="453" width="3" height="6" fill="#f6465d"/>
<rect x="1092" y="454" width="1" height="14" fill="#f6465d"/>
<rect x="1091" y="458" width="3" height="7" fill="#f6465d"/>
<rect x="1097" y="459" width="1" height="8" fill="#0ecb81"/>
<rect x="1096" y="461" width="3" height="4" fill="#0ecb81"/>
<rect x="1102" y="453" width="1" height="11" fill="#0ecb81"/>
<rect x="1101" y="457" width="3" height="5" fill="#0ecb81"/>
<rect x="1107" y="452" width="1" height="10" fill="#0ecb81"/>
<rect x="1106" y="456" width="3" height="2" fill="#0ecb81"/>
<rect x="1112" y="456" width="1" height="26" fill="#f6465d"/>
<rect x="1111" y="456" width="3" height="17" fill="#f6465d"/>
<rect x="1117" y="470" width="1" height="15" fill="#f6465d"/>
<rect x="1116" y="472" width="3" height="11" fill="#f6465d"/>
<rect x="1122" y="477" width="1" height="12" fill="#0ecb81"/>
<rect x="1121" y="478" width="3" height="5" fill="#0ecb81"/>
<rect x="1127" y="473" width="1" height="17" fill="#0ecb81"/>
<rect x="1126" y="474" width="3" height="5" fill="#0ecb81"/>
<rect x="1132" y="471" width="1" height="16" fill="#0ecb81"/>
<rect x="1131" y="474" width="3" height="2" fill="#0ecb81"/>
<rect x="1137" y="472" width="1" height="15" fill="#f6465d"/>
<rect x="1136" y="474" width="3" height="12" fill="#f6465d"/>
<rect x="1142" y="474" width="1" height="14" fill="#0ecb81"/>
<rect x="1141" y="477" width="3" height="9" fill="#0ecb81"/>
<rect x="1147" y="453" width="1" height="27" fill="#0ecb81"/>
<rect x="1146" y="461" width="3" height="17" fill="#0ecb81"/>
<rect x="1152" y="455" width="1" height="11" fill="#0ecb81"/>
<rect x="1151" y="458" width="3" height="4" fill="#0ecb81"/>
<rect x="1157" y="444" width="1" height="17" fill="#0ecb81"/>
<rect x="1156" y="453" width="3" height="6" fill="#0ecb81"/>
<rect x="1162" y="453" width="1" height="24" fill="#f6465d"/>
<rect x="1161" y="453" width="3" height="20" fill="#f6465d"/>
<rect x="1167" y="458" width="1" height="29" fill="#0ecb81"/>
<rect x="1166" y="459" width="3" height="14" fill="#0ecb81"/>
<rect x="1172" y="439" width="1" height="29" fill="#0ecb81"/>
<rect x="1171" y="457" width="3" height="3" fill="#0ecb81"/>
<rect x="1177" y="457" width="1" height="13" fill="#f6465d"/>
<rect x="1176" y="457" width="3" height="9" fill="#f6465d"/>
<rect x="1182" y="440" width="1" height="28" fill="#0ecb81"/>
<rect x="1181" y="456" width="3" height="10" fill="#0ecb81"/>
<rect x="1187" y="441" width="1" height="22" fill="#f6465d"/>
<rect x="1186" y="456" width="3" height="3" fill="#f6465d"/>
<rect x="1192" y="452" width="1" height="16" fill="#f6465d"/>
<rect x="1191" y="459" width="3" height="6" fill="#f6465d"/>
<rect x="1197" y="448" width="1" height="101" fill="#f6465d"/>
<rect x="1196" y="464" width="3" height="70" fill="#f6465d"/>
<rect x="1202" y="532" width="1" height="29" fill="#f6465d"/>
<rect x="1201" y="533" width="3" height="18" fill="#f6465d"/>
<rect x="1207" y="525" width="1" height="32" fill="#f6465d"/>
<rect x="1206" y="550" width="3" height="6" fill="#f6465d"/>
<rect x="1212" y="528" width="1" height="33" fill="#0ecb81"/>
<rect x="1211" y="552" width="3" height="4" fill="#0ecb81"/>
<rect x="1217" y="540" width="1" height="30" fill="#0ecb81"/>
<rect x="1216" y="540" width="3" height="13" fill="#0ecb81"/>
<rect x="1222" y="510" width="1" height="31" fill="#0ecb81"/>
<rect x="1221" y="511" width="3" height="30" fill="#0ecb81"/>
<rect x="1227" y="468" width="1" height="50" fill="#0ecb81"/>
<rect x="1226" y="485" width="3" height="27" fill="#0ecb81"/>
<rect x="1232" y="471" width="1" height="33" fill="#f6465d"/>
<rect x="1231" y="485" width="3" height="18" fill="#f6465d"/>
<rect x="1237" y="454" width="1" height="55" fill="#0ecb81"/>
<rect x="1236" y="488" width="3" height="14" fill="#0ecb81"/>
<rect x="1242" y="482" width="1" height="22" fill="#f6465d"/>
<rect x="1241" y="488" width="3" height="15" fill="#f6465d"/>
<rect x="1247" y="487" width="1" height="49" fill="#f6465d"/>
<rect x="1246" y="502" width="3" height="20" fill="#f6465d"/>
<rect x="1252" y="506" width="1" height="21" fill="#0ecb81"/>
<rect x="1251" y="506" width="3" height="16" fill="#0ecb81"/>
<rect x="1257" y="504" width="1" height="40" fill="#f6465d"/>
<rect x="1256" y="506" width="3" height="35" fill="#f6465d"/>
<rect x="1262" y="518" width="1" height="32" fill="#0ecb81"/>
<rect x="1261" y="522" width="3" height="19" fill="#0ecb81"/>
<rect x="1267" y="512" width="1" height="20" fill="#0ecb81"/>
<rect x="1266" y="514" width="3" height="9" fill="#0ecb81"/>
<rect x="1272" y="480" width="1" height="44" fill="#0ecb81"/>
<rect x="1271" y="486" width="3" height="29" fill="#0ecb81"/>
<rect x="1277" y="480" width="1" height="10" fill="#0ecb81"/>
<rect x="1276" y="480" width="3" height="7" fill="#0ecb81"/>
</svg>
<div class="t" style="left:1369px;top:237px;font-size:14.4px;color:#8a919b">71000.00</div>
<div class="t" style="left:1369px;top:311px;font-size:14.4px;color:#8a919b">70000.00</div>
<div class="t" style="left:1369px;top:386px;font-size:14.4px;color:#8a919b">69000.00</div>
<div class="t" style="left:1369px;top:460px;font-size:14.4px;color:#8a919b">68000.00</div>
<div class="t" style="left:1369px;top:534px;font-size:14.4px;color:#8a919b">67000.00</div>
<div class="t" style="left:1369px;top:609px;font-size:14.4px;color:#8a919b">66000.00</div>
<div class="a" style="left:1356px;top:470px;width:82px;height:21px;border-radius:3px;background:#0ecb81"></div>
<div class="t" style="left:1368px;top:474px;font-size:14.3px;font-weight:700;color:#fff">67808.71</div>

<!-- positions -->
<div class="a" style="left:80px;top:653px;width:1364px;height:1px;background:#1f232a"></div>
<div class="a" style="left:80px;top:654px;width:1364px;height:230px;background:#0e1118"></div>
<div class="a" style="left:80px;top:654px;width:347px;height:37px;background:#13161b"></div>
<div class="a" style="left:80px;top:691px;width:103px;height:2px;background:#0ecb81"></div>
<div class="a" style="left:183px;top:691px;width:103px;height:2px;background:#5c4a14"></div>
<div class="a" style="left:286px;top:691px;width:141px;height:2px;background:#2f333b"></div>
<div class="a" style="left:80px;top:693px;width:1364px;height:1px;background:#1a1e25"></div>
<svg class="a" style="left:95.1px;top:664.9px" width="14.9" height="14.9" viewBox="0 0 24 24" fill="none" stroke="#e5e7eb" stroke-width="2.2" stroke-linecap="round" stroke-linejoin="round"><path d="M22 7 13.5 15.5 8.5 10.5 2 17"/><path d="M16 7h6v6"/></svg>
<div class="t" style="left:118px;top:667px;font-size:13px;font-weight:700;color:#f3f4f6;letter-spacing:-0.15px">Position</div>
<svg class="a" style="left:197.9px;top:665.5px" width="15.1" height="15.1" viewBox="0 0 24 24" fill="none" stroke="#d1d5db" stroke-width="2.2" stroke-linecap="round" stroke-linejoin="round"><circle cx="12" cy="12" r="10"/><path d="M12 6v6l4 2"/></svg>
<div class="t" style="left:220px;top:667px;font-size:13px;font-weight:700;color:#f3f4f6">Pending</div>
<svg class="a" style="left:300.4px;top:664.8px" width="15.7" height="15.7" viewBox="0 0 24 24" fill="none" stroke="#d1d5db" stroke-width="2.2" stroke-linecap="round" stroke-linejoin="round"><path d="M3 12a9 9 0 1 0 9-9 9.75 9.75 0 0 0-6.74 2.74L3 8"/><path d="M3 3v5h5"/><path d="M12 7v5l4 2"/></svg>
<div class="t" style="left:324px;top:667px;font-size:13px;font-weight:700;color:#f3f4f6">History</div>
<div class="a" style="left:377px;top:662px;width:35px;height:22px;border-radius:11px;background:#262a31"></div>
<div class="t" style="left:383px;top:667px;font-size:11px;color:#8a93a2">99+</div>

<svg class="a" style="left:1357.3px;top:662.5px" width="21.6" height="21.6" viewBox="0 0 24 24" fill="none" stroke="#9aa1ac" stroke-width="1.9" stroke-linecap="round" stroke-linejoin="round"><path d="m6 9 6 6 6-6"/></svg>
<div class="t" style="left:1384px;top:667px;font-size:12px;color:#9aa1ac">Collapse</div>

<div class="a" style="left:80px;top:726px;width:1364px;height:1px;background:#1a1e25"></div>
<div class="t" style="left:90px;top:704.5px;font-size:11.5px;color:#8a93a2;-webkit-text-stroke:0.3px #8a93a2">Symbol</div>
<div class="t" style="left:330px;top:704.5px;font-size:11.5px;color:#8a93a2;-webkit-text-stroke:0.3px #8a93a2">Side</div>
<div class="t" style="left:476px;top:704.5px;font-size:11.5px;color:#8a93a2;-webkit-text-stroke:0.3px #8a93a2">Size</div>
<div class="t" style="left:645px;top:704.5px;font-size:11.5px;color:#8a93a2;-webkit-text-stroke:0.3px #8a93a2">Entry</div>
<div class="t" style="left:838px;top:704.5px;font-size:11.5px;color:#f6465d;-webkit-text-stroke:0.3px #f6465d">SL</div>
<div class="t" style="left:1031px;top:704.5px;font-size:11.5px;color:#0ecb81;-webkit-text-stroke:0.3px #0ecb81">TP</div>
<div class="t" style="left:1223px;top:704.5px;font-size:11.5px;color:#8a93a2;-webkit-text-stroke:0.3px #8a93a2">PnL</div>
<div class="t" style="left:712px;top:745px;font-size:12.7px;color:#8a93a2">No open positions</div>

<!-- RIGHT PANEL -->
<div class="a" style="left:1445px;top:72px;width:464px;height:817px;background:#0b0e12"></div>
<div class="a" style="left:1453px;top:87px;width:451px;height:137px;border-radius:10px;border:1px solid #1f232b;background:#0b0e12"></div>
<svg class="a" style="left:1468.5px;top:100.8px" width="20.8" height="20.8" viewBox="0 0 24 24" fill="none" stroke="#f0b90b" stroke-width="2.1" stroke-linecap="round" stroke-linejoin="round"><path d="m15.477 12.89 1.515 8.526a.5.5 0 0 1-.81.47l-3.58-2.687a1 1 0 0 0-1.197 0l-3.586 2.686a.5.5 0 0 1-.81-.469l1.514-8.526"/><circle cx="12" cy="8" r="6"/></svg>
<div class="t" style="left:1499px;top:104px;font-size:14px;font-weight:700;color:#f3f4f6">Level 142</div>
<div class="a" style="left:1570px;top:98px;width:63px;height:26px;border-radius:5px;background:#2c2410;border:1px solid #5a4714"></div>
<svg class="a" style="left:1578.3px;top:103.7px" width="15.4" height="15.4" viewBox="0 0 24 24" fill="none" stroke="#f0b90b" stroke-width="2.2" stroke-linecap="round" stroke-linejoin="round"><path d="M8.5 14.5A2.5 2.5 0 0 0 11 12c0-1.38-.5-2-1-3-1.072-2.143-.224-4.054 2-6 .5 2.5 2 4.9 4 6.5 2 1.6 3 3.5 3 5.5a7 7 0 1 1-14 0c0-1.153.433-2.294 1-3a2.5 2.5 0 0 0 2.5 2.5z"/></svg>
<div class="t" style="left:1599px;top:104.5px;font-size:13px;color:#f0b90b;-webkit-text-stroke:0.35px #f0b90b;letter-spacing:-0.6px">1227</div>
<div class="t" style="left:1810px;top:105px;font-size:12.2px;color:#8a93a2">View Profile →</div>
<div class="t" style="left:1468px;top:137px;font-size:12.3px;color:#8a93a2">170954 / 171003 XP</div>
<div class="t" style="left:1864px;top:137px;font-size:12.3px;color:#8a93a2">97%</div>
<div class="a" style="left:1469px;top:158px;width:420px;height:6px;border-radius:3px;background:#1f232a"></div>
<div class="a" style="left:1469px;top:158px;width:409px;height:6px;border-radius:3px;background:linear-gradient(90deg,#f0b90b,#fcd535)"></div>
<div class="t" style="left:1468px;top:170px;font-size:11px;color:#7d8592">48 XP to next level</div>
<svg class="a" style="left:1468.8px;top:196px" width="15.1" height="15.1" viewBox="0 0 24 24" fill="none" stroke="#7d8592" stroke-width="2" stroke-linecap="round" stroke-linejoin="round"><circle cx="12" cy="12" r="10"/><circle cx="12" cy="12" r="6"/><circle cx="12" cy="12" r="2"/></svg>
<div class="t" style="left:1488px;top:197px;font-size:12.3px;color:#8a93a2">20 achievements</div>
<svg class="a" style="left:1595.9px;top:196.4px" width="14.9" height="14.9" viewBox="0 0 24 24" fill="none" stroke="#f0b90b" stroke-width="2.2" stroke-linecap="round" stroke-linejoin="round"><path d="M4 14a1 1 0 0 1-.78-1.63l9.9-10.2a.5.5 0 0 1 .86.46l-1.92 6.02A1 1 0 0 0 13 10h7a1 1 0 0 1 .78 1.63l-9.9 10.2a.5.5 0 0 1-.86-.46l1.92-6.02A1 1 0 0 0 11 14z"/></svg>
<div class="t" style="left:1616px;top:197px;font-size:12.3px;color:#f0b90b">4 active challenges</div>

<!-- AI panel -->
<div class="a" style="left:1445px;top:224px;width:470px;height:653px;border-radius:12px;border:1px solid #1f232b;background:#0b0e12"></div>
<div class="a" style="left:1446px;top:285px;width:463px;height:518px;background:#0e1117"></div>
<div class="a" style="left:1446px;top:803px;width:463px;height:1px;background:#1f232a"></div>
<div class="a" style="left:1461px;top:260px;width:426px;height:527px;border-radius:0 0 15px 15px;border:1px solid #262a31;border-top:none;background:#16181e"></div>
<div class="a" style="left:1462px;top:260px;width:424px;height:57px;background:linear-gradient(180deg,#16181e,#1a1d23)"></div>
<div class="t" style="left:1482px;top:276px;font-size:17px;color:#e5e7eb">absorption at current level.</div>
<div class="a" style="left:1446px;top:225px;width:463px;height:60px;background:#0b0e12;border-radius:12px 12px 0 0"></div>
<div class="a" style="left:1902px;top:285px;width:7px;height:518px;background:#2a2e36"></div>
<div class="a" style="left:1887px;top:285px;width:15px;height:518px;background:#0d1015"></div>

<div class="a" style="left:1461px;top:238px;width:35px;height:35px;border-radius:50%;background:#1f232b"></div>
<svg class="a" style="left:1461px;top:238px" width="35" height="35" viewBox="0 0 35 35" fill="none" stroke="#a9c5fb" stroke-width="2" stroke-linecap="round" stroke-linejoin="round"><path d="M7.8 22.6L14 11.6 20.2 22.6"/><path d="M10.2 19.3H15"/><path d="M23.8 18.6L26.3 22.6"/><path d="M22.7 11.2Q23.1 13.1 25 13.5 23.1 13.9 22.7 15.8 22.3 13.9 20.4 13.5 22.3 13.1 22.7 11.2Z" fill="#a9c5fb" stroke-width="0.8"/></svg>
<div class="t" style="left:1506px;top:248px;font-size:17px;font-weight:700;color:#f3f4f6;letter-spacing:-0.2px">Trading AI</div>
<div class="t" style="left:1598px;top:253.5px;font-size:11.3px;color:#8a93a2;letter-spacing:-0.35px">BTCUSDT</div>
<div class="a" style="left:1771px;top:252px;width:7px;height:7px;border-radius:50%;background:#0ecb81"></div>
<div class="t" style="left:1783px;top:250px;font-size:11.5px;color:#0ecb81">LIVE</div>
<svg class="a" style="left:1829.5px;top:246.7px" width="17.6" height="17.6" viewBox="0 0 24 24" fill="none" stroke="#8a93a2" stroke-width="2" stroke-linecap="round" stroke-linejoin="round"><path d="M3 6h18"/><path d="M19 6v14c0 1-1 2-2 2H7c-1 0-2-1-2-2V6"/><path d="M8 6V4c0-1 1-2 2-2h4c1 0 2 1 2 2v2"/><line x1="10" x2="10" y1="11" y2="17"/><line x1="14" x2="14" y1="11" y2="17"/></svg>
<svg class="a" style="left:1868.4px;top:244.6px" width="21.1" height="21.1" viewBox="0 0 24 24" fill="none" stroke="#9aa1ac" stroke-width="1.9" stroke-linecap="round" stroke-linejoin="round"><path d="M18 6 6 18"/><path d="m6 6 12 12"/></svg>

<!-- accordion rows -->
<div class="a" style="left:1462px;top:317px;width:424px;height:1px;background:#262a31"></div>
<div class="t" style="left:1479px;top:339px;font-size:15px">&#128202;</div>
<div class="t" style="left:1505px;top:338px;font-size:17px;font-weight:700;color:#f3f4f6">Market Summary</div>
<svg class="a" style="left:1848.8px;top:332.6px" width="25.2" height="25.2" viewBox="0 0 24 24" fill="none" stroke="#8a93a2" stroke-width="1.6" stroke-linecap="round" stroke-linejoin="round"><path d="m18 15-6-6-6 6"/></svg>
<div class="t" style="left:1477px;top:376px;font-size:17.2px;color:#e5e7eb;line-height:26px">Current price 67,768, 4h bearish, 1h bullish. Mixed<br>technical signals with RSI divergence.</div>
<div class="a" style="left:1462px;top:442px;width:424px;height:1px;background:#262a31"></div>

<div class="t" style="left:1479px;top:464px;font-size:15px">&#127919;</div>
<div class="t" style="left:1506px;top:463px;font-size:17px;font-weight:700;color:#f3f4f6">Liquidity Map</div>
<svg class="a" style="left:1848.8px;top:458.5px" width="25.2" height="25.2" viewBox="0 0 24 24" fill="none" stroke="#8a93a2" stroke-width="1.6" stroke-linecap="round" stroke-linejoin="round"><path d="m6 9 6 6 6-6"/></svg>
<div class="a" style="left:1462px;top:499px;width:424px;height:1px;background:#262a31"></div>

<div class="t" style="left:1479px;top:521px;font-size:15px">&#128293;</div>
<div class="t" style="left:1501px;top:520px;font-size:17px;font-weight:700;color:#f3f4f6;letter-spacing:-0.6px">Clusters Analysis</div>
<svg class="a" style="left:1848.8px;top:515.5px" width="25.2" height="25.2" viewBox="0 0 24 24" fill="none" stroke="#8a93a2" stroke-width="1.6" stroke-linecap="round" stroke-linejoin="round"><path d="m6 9 6 6 6-6"/></svg>
<div class="a" style="left:1462px;top:557px;width:424px;height:1px;background:#262a31"></div>

<div class="t" style="left:1479px;top:579px;font-size:15px">&#128200;</div>
<div class="t" style="left:1505px;top:578px;font-size:17px;font-weight:700;color:#f3f4f6;letter-spacing:-0.6px">Technical Analysis</div>
<svg class="a" style="left:1848.8px;top:572.5px" width="25.2" height="25.2" viewBox="0 0 24 24" fill="none" stroke="#8a93a2" stroke-width="1.6" stroke-linecap="round" stroke-linejoin="round"><path d="m6 9 6 6 6-6"/></svg>
<div class="a" style="left:1462px;top:614px;width:424px;height:1px;background:#262a31"></div>

<div class="t" style="left:1479px;top:636px;font-size:15px">&#129517;</div>
<div class="t" style="left:1506px;top:635px;font-size:17px;font-weight:700;color:#f3f4f6;letter-spacing:-0.37px">Directional Bias</div>
<svg class="a" style="left:1848.8px;top:629.5px" width="25.2" height="25.2" viewBox="0 0 24 24" fill="none" stroke="#8a93a2" stroke-width="1.6" stroke-linecap="round" stroke-linejoin="round"><path d="m6 9 6 6 6-6"/></svg>
<div class="a" style="left:1462px;top:671px;width:424px;height:1px;background:#262a31"></div>

<div class="t" style="left:1479px;top:693px;font-size:15px">&#128200;</div>
<div class="t" style="left:1505px;top:692px;font-size:17px;font-weight:700;color:#0ecb81;letter-spacing:-0.47px">Long Scenario</div>
<svg class="a" style="left:1848.8px;top:686.5px" width="25.2" height="25.2" viewBox="0 0 24 24" fill="none" stroke="#8a93a2" stroke-width="1.6" stroke-linecap="round" stroke-linejoin="round"><path d="m6 9 6 6 6-6"/></svg>
<div class="a" style="left:1462px;top:728px;width:424px;height:1px;background:#262a31"></div>

<div class="t" style="left:1479px;top:750px;font-size:15px">&#128201;</div>
<div class="t" style="left:1505px;top:749px;font-size:17px;font-weight:700;color:#f6465d;letter-spacing:-0.35px">Short Scenario</div>
<svg class="a" style="left:1848.8px;top:743.5px" width="25.2" height="25.2" viewBox="0 0 24 24" fill="none" stroke="#8a93a2" stroke-width="1.6" stroke-linecap="round" stroke-linejoin="round"><path d="m6 9 6 6 6-6"/></svg>

<!-- input -->
<div class="a" style="left:1462px;top:814px;width:435px;height:52px;border-radius:26px;background:#1f232a;border:1px solid #2a2f37"></div>
<div class="t" style="left:1477px;top:831px;font-size:17px;color:#8a93a2">Got questions? Just ask!</div>
<div class="a" style="left:1846px;top:822px;width:35px;height:35px;border-radius:50%;background:#8a6d12"></div>
<svg class="a" style="left:1853px;top:830px" width="20" height="20" viewBox="0 0 20 20" fill="none" stroke="#15120a" stroke-width="1.5" stroke-linejoin="round" stroke-linecap="round"><path d="M9.7 2.7L16.6 16.6Q9.7 13.6 2.9 16.6Z"/><path d="M9.6 9v5.5"/></svg>

<!-- FOOTER -->
<div class="a" style="left:0;top:889px;width:1909px;height:25px;background:#1e2026"></div>
<svg class="a" style="left:19px;top:896px" width="16" height="14" viewBox="0 0 16 14" fill="#0ecb81"><rect x="1" y="10" width="2.5" height="4"/><rect x="5" y="7" width="2.5" height="7"/><rect x="9" y="4" width="2.5" height="10"/><rect x="13" y="0" width="2.5" height="14"/></svg>
<div class="t" style="left:42px;top:897px;font-size:15px;color:#0ecb81">Stable connection</div>
<div class="a" style="left:180px;top:889px;width:1600px;height:25px;overflow:hidden">
  <div class="t" style="left:-4px;top:8px;font-size:15px;color:#d1d5db;letter-spacing:-0.9px">SOL/USDT</div>
<div class="t" style="left:76px;top:8px;font-size:15px;color:#0ecb81">84.92</div>
<div class="t" style="left:123px;top:8px;font-size:15px;color:#0ecb81">+0.14%</div>
<div class="t" style="left:203px;top:8px;font-size:15px;color:#d1d5db;letter-spacing:-0.9px">XRP/USDT</div>
<div class="t" style="left:281px;top:8px;font-size:15px;color:#0ecb81">1.48</div>
<div class="t" style="left:320px;top:8px;font-size:15px;color:#0ecb81">+0.14%</div>
<div class="t" style="left:400px;top:8px;font-size:15px;color:#d1d5db;letter-spacing:-0.9px">BTC/USDT</div>
<div class="t" style="left:476px;top:8px;font-size:15px;color:#f6465d">67,811</div>
<div class="t" style="left:530px;top:8px;font-size:15px;color:#f6465d">-0.44%</div>
<div class="t" style="left:607px;top:8px;font-size:15px;color:#d1d5db;letter-spacing:-0.9px">ETH/USDT</div>
<div class="t" style="left:686px;top:8px;font-size:15px;color:#0ecb81">1,991</div>
<div class="t" style="left:732px;top:8px;font-size:15px;color:#0ecb81">+0.56%</div>
<div class="t" style="left:812px;top:8px;font-size:15px;color:#d1d5db;letter-spacing:-0.9px">BNB/USDT</div>
<div class="t" style="left:892px;top:8px;font-size:15px;color:#0ecb81">620.21</div>
<div class="t" style="left:946px;top:8px;font-size:15px;color:#0ecb81">+0.50%</div>
<div class="t" style="left:1027px;top:8px;font-size:15px;color:#d1d5db;letter-spacing:-0.9px">SOL/USDT</div>
<div class="t" style="left:1103px;top:8px;font-size:15px;color:#0ecb81">84.92</div>
<div class="t" style="left:1150px;top:8px;font-size:15px;color:#0ecb81">+0.14%</div>
<div class="t" style="left:1231px;top:8px;font-size:15px;color:#d1d5db;letter-spacing:-0.9px">XRP/USDT</div>
<div class="t" style="left:1310px;top:8px;font-size:15px;color:#0ecb81">1.48</div>
<div class="t" style="left:1350px;top:8px;font-size:15px;color:#0ecb81">+0.14%</div>
</div>
<div class="t" style="left:1800px;top:897px;font-size:15px;color:#f3f4f6">Online Support</div>

</body></html>
